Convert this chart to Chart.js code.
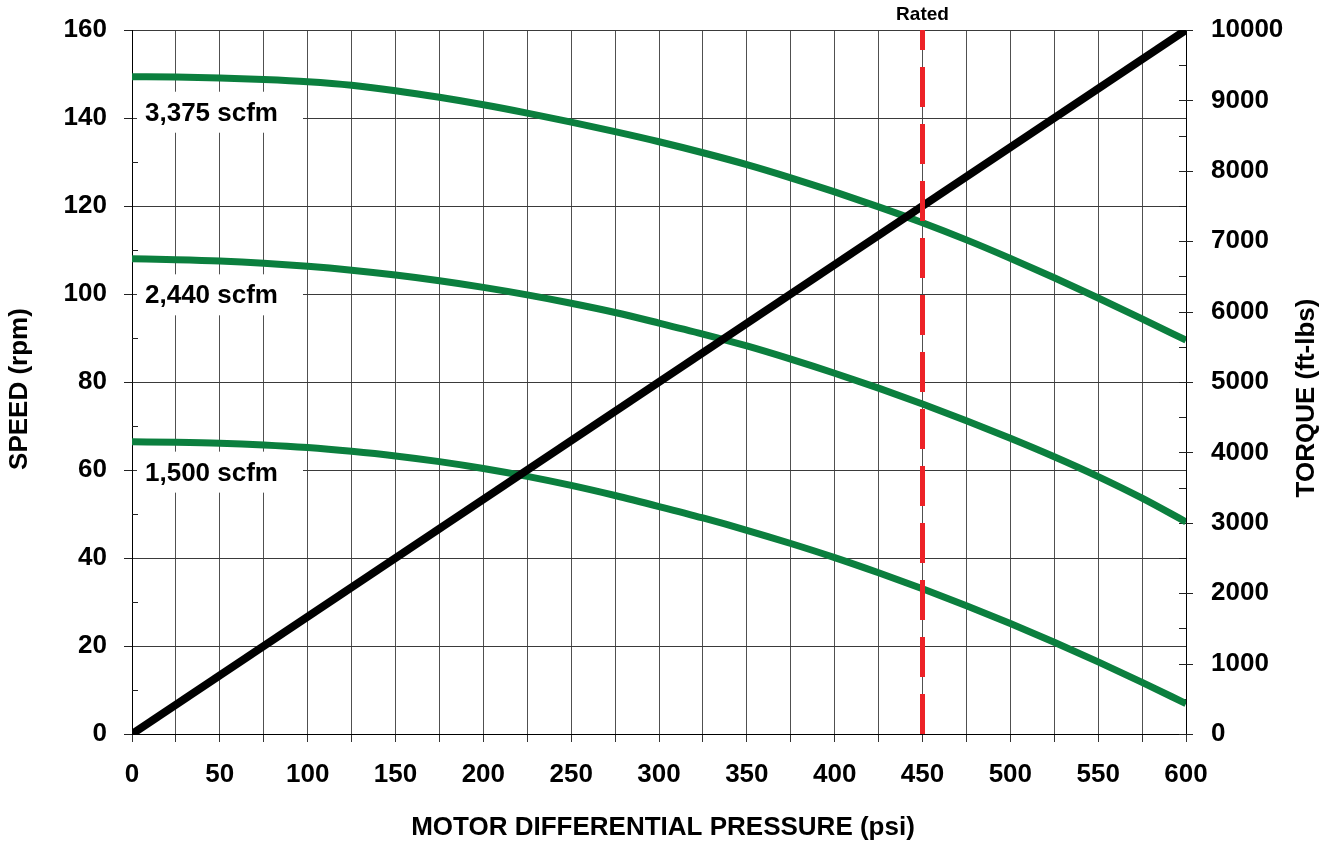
<!DOCTYPE html>
<html>
<head>
<meta charset="utf-8">
<script src="https://cdn.jsdelivr.net/npm/chart.js@4"></script>
<style>
html,body{margin:0;padding:0;background:#fff;}
#wrap{width:1325px;height:842px;position:relative;}
</style>
</head>
<body>
<div id="wrap"><canvas id="c"></canvas></div>
<script>
// ---- data ----
const pressure   = [0,25,50,75,100,125,150,175,200,225,250,275,300,325,350,375,400,425,450,475,500,525,550,575,600];
const speed3375  = [149.4,149.3,149.1,148.75,148.25,147.45,146.2,144.7,143.0,141.1,139.05,136.9,134.6,132.1,129.4,126.4,123.2,119.8,116.2,112.3,108.1,103.7,99.1,94.35,89.5];
const speed2440  = [108.0,107.8,107.5,107.0,106.3,105.4,104.3,103.0,101.5,99.8,97.9,95.8,93.4,90.9,88.2,85.2,82.0,78.6,75.0,71.2,67.2,63.0,58.5,53.6,48.2];
const speed1500  = [66.4,66.3,66.1,65.7,65.1,64.25,63.2,61.9,60.35,58.55,56.5,54.2,51.7,49.1,46.3,43.3,40.1,36.65,33.0,29.15,25.1,20.85,16.4,11.75,6.9];
const torquePressure = [0,600];
const torqueValues   = [0,10000];
const ratedPressure  = 450;
const ratedSpan      = [0,160];
const curveLabels    = ['3,375 scfm','2,440 scfm','1,500 scfm'];
const curveLabelSpeed = [141.2,99.7,59.4];
const xTickLabels    = [0,50,100,150,200,250,300,350,400,450,500,550,600];
const speedTicks     = [0,20,40,60,80,100,120,140,160];
const torqueTicks    = [0,1000,2000,3000,4000,5000,6000,7000,8000,9000,10000];

const FONT = '"Liberation Sans", Arial, Helvetica, sans-serif';
const GREEN = '#0B7F3E';
const toXY = (xs, ys) => xs.map((x,i)=>({x:x, y:ys[i]}));
const noPad = s => { s.paddingTop = 0; s.paddingBottom = 0; s.paddingLeft = 0; s.paddingRight = 0; };

const deco = {
  id:'deco',
  beforeDatasetsDraw(chart){
    const ctx = chart.ctx, ca = chart.chartArea;
    const ys = chart.scales.y, y2 = chart.scales.y2;
    ctx.save();
    ctx.fillStyle = '#fff';
    curveLabelSpeed.forEach(v=>{
      const py = ys.getPixelForValue(v);
      ctx.fillRect(ca.left+5, py-21, 166, 41);
    });
    ctx.fillStyle = '#000';
    ctx.font = 'bold 26px ' + FONT;
    ctx.textAlign = 'left';
    ctx.textBaseline = 'middle';
    curveLabels.forEach((t,i)=>{
      const py = ys.getPixelForValue(curveLabelSpeed[i]);
      ctx.fillText(t, ca.left+13, py+1);
    });
    ctx.strokeStyle = '#222';
    ctx.lineWidth = 1;
    ctx.beginPath();
    speedTicks.forEach((v,i)=>{
      const py = Math.round(ys.getPixelForValue(v))+0.5;
      ctx.moveTo(ca.left-8, py); ctx.lineTo(ca.left, py);
      if (i < speedTicks.length-1){
        const pm = Math.round(ys.getPixelForValue((v+speedTicks[i+1])/2))+0.5;
        ctx.moveTo(ca.left, pm); ctx.lineTo(ca.left+6, pm);
      }
    });
    torqueTicks.forEach((v,i)=>{
      const py = Math.round(y2.getPixelForValue(v))+0.5;
      ctx.moveTo(ca.right-7, py); ctx.lineTo(ca.right+7, py);
      if (i < torqueTicks.length-1){
        const pm = Math.round(y2.getPixelForValue((v+torqueTicks[i+1])/2))+0.5;
        ctx.moveTo(ca.right-7, pm); ctx.lineTo(ca.right, pm);
      }
    });
    ctx.stroke();
    ctx.restore();
  },
  afterDraw(chart){
    const ctx = chart.ctx, ca = chart.chartArea;
    ctx.save();
    ctx.fillStyle = '#000';
    ctx.textAlign = 'center';
    ctx.textBaseline = 'middle';
    ctx.font = 'bold 26px ' + FONT;
    ctx.fillText('MOTOR DIFFERENTIAL PRESSURE (psi)', 663, 828);
    ctx.save(); ctx.translate(20, 389); ctx.rotate(-Math.PI/2);
    ctx.fillText('SPEED (rpm)', 0, 0); ctx.restore();
    ctx.save(); ctx.translate(1307, 398); ctx.rotate(-Math.PI/2);
    ctx.fillText('TORQUE (ft-lbs)', 0, 0); ctx.restore();
    ctx.font = 'bold 19px ' + FONT;
    ctx.fillText('Rated', chart.scales.x.getPixelForValue(ratedPressure), ca.top-15);
    ctx.restore();
  }
};

const tickFont = {family: FONT, size: 26, weight: 'bold'};

new Chart(document.getElementById('c'), {
  type: 'line',
  data: {
    datasets: [
      {label:'Rated', data: ratedSpan.map(v=>({x:ratedPressure, y:v})), yAxisID:'y',
       borderColor:'#ED2227', borderWidth:5, borderDash:[40,17], borderCapStyle:'butt', pointRadius:0, order:0, tension:0},
      {label:'Torque', data: toXY(torquePressure, torqueValues), yAxisID:'y2',
       borderColor:'#000', borderWidth:8, borderCapStyle:'butt', pointRadius:0, order:1, tension:0},
      {label:'3,375 scfm', data: toXY(pressure, speed3375), yAxisID:'y',
       borderColor:GREEN, borderWidth:7, pointRadius:0, order:2, cubicInterpolationMode:'monotone'},
      {label:'2,440 scfm', data: toXY(pressure, speed2440), yAxisID:'y',
       borderColor:GREEN, borderWidth:7, pointRadius:0, order:2, cubicInterpolationMode:'monotone'},
      {label:'1,500 scfm', data: toXY(pressure, speed1500), yAxisID:'y',
       borderColor:GREEN, borderWidth:7, pointRadius:0, order:2, cubicInterpolationMode:'monotone'}
    ]
  },
  options: {
    responsive: true,
    maintainAspectRatio: false,
    animation: false,
    layout: {padding: {top:30, left:0, right:0, bottom:0}},
    plugins: {legend:{display:false}, tooltip:{enabled:false}},
    scales: {
      x: {
        type:'linear', min:0, max:600,
        afterFit: s => { s.height = 108; noPad(s); },
        ticks: {stepSize:25, autoSkip:false, maxRotation:0, color:'#000', font:tickFont, padding:17,
                callback: v => xTickLabels.includes(v) ? String(v) : ''},
        grid: {color:'#505050', lineWidth:1, drawTicks:true, tickLength:8, tickColor:'#333'},
        border: {color:'#000', width:1}
      },
      y: {
        position:'left', min:0, max:160,
        afterFit: s => { s.width = 132; noPad(s); },
        ticks: {stepSize:20, color:'#000', font:tickFont, padding:25,
                callback: v => speedTicks.includes(v) ? String(v) : ''},
        grid: {color:'#3a3a3a', lineWidth:1, drawTicks:false},
        border: {color:'#000', width:1}
      },
      y2: {
        position:'right', min:0, max:10000,
        afterFit: s => { s.width = 139; noPad(s); },
        ticks: {stepSize:1000, color:'#000', font:tickFont, padding:25,
                callback: v => torqueTicks.includes(v) ? String(v) : ''},
        grid: {drawOnChartArea:false, drawTicks:false},
        border: {color:'#000', width:1}
      }
    }
  },
  plugins: [deco]
});
</script>
</body>
</html>
